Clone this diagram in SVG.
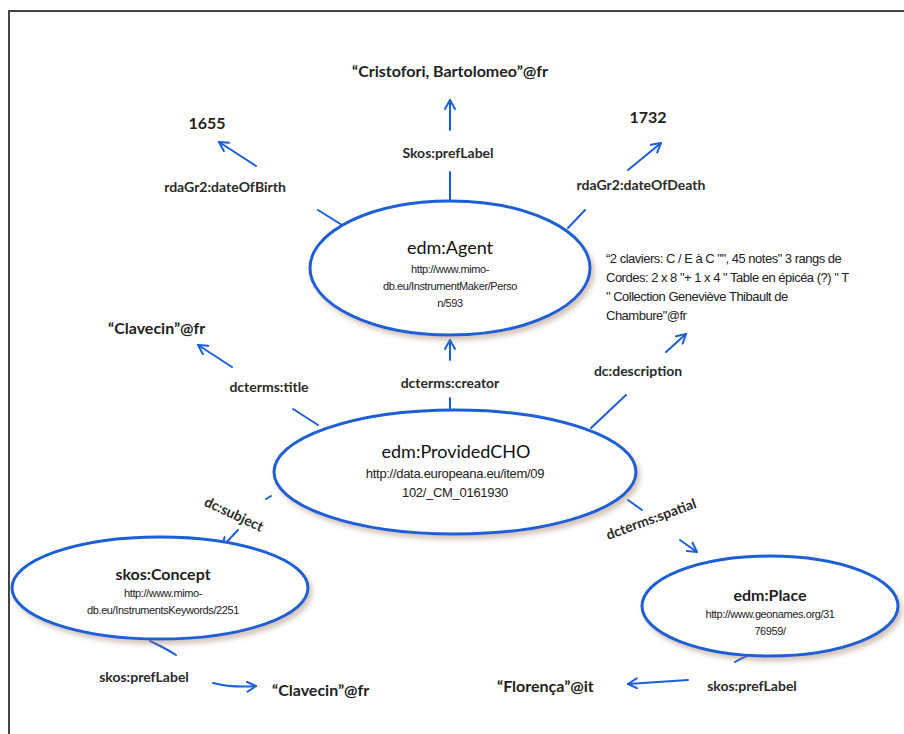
<svg xmlns="http://www.w3.org/2000/svg" width="904" height="734" viewBox="0 0 904 734">
<defs>
<filter id="sh" x="-10%" y="-10%" width="125%" height="130%">
<feDropShadow dx="3" dy="4" stdDeviation="2.5" flood-color="#a08060" flood-opacity="0.45"/>
</filter>
<marker id="ah" viewBox="0 0 12 12" refX="10" refY="6" markerWidth="12" markerHeight="12" markerUnits="userSpaceOnUse" orient="auto">
<path d="M1,1 L10,6 L1,11" fill="none" stroke="#1a5fd6" stroke-width="2" stroke-linecap="round" stroke-linejoin="round"/>
</marker>
</defs>
<style>
.lbl{font-family:Lato,"Noto Sans","Liberation Sans",sans-serif;font-weight:bold;font-size:14px;fill:#2a2a2a;text-anchor:middle}
.lit{font-family:Lato,"Noto Sans","Liberation Sans",sans-serif;font-weight:bold;font-size:16px;fill:#222}
.ttl{font-family:Lato,"Noto Sans","Liberation Sans",sans-serif;font-weight:bold;font-size:16px;fill:#222;text-anchor:middle}
.ttr{font-family:Lato,"Noto Sans","Liberation Sans",sans-serif;font-weight:normal;font-size:18px;fill:#111;text-anchor:middle}
.url{font-family:"Liberation Sans",Arial,sans-serif;font-size:11px;fill:#222;text-anchor:middle;letter-spacing:-0.4px}
.url2{font-family:"Liberation Sans",Arial,sans-serif;font-size:13px;fill:#222;text-anchor:middle;letter-spacing:-0.3px}
.desc{font-family:"Liberation Sans",Arial,sans-serif;font-size:13px;fill:#222;letter-spacing:-0.5px}
.ell{fill:#fff;stroke:#1a5fd6;stroke-width:3;filter:url(#sh)}
.cn{fill:none;stroke:#1a5fd6;stroke-width:2;stroke-linecap:round}
.ar{fill:none;stroke:#1a5fd6;stroke-width:2;stroke-linecap:round;marker-end:url(#ah)}
.frame{fill:none;stroke:#444;stroke-width:2}
</style>
<rect width="904" height="734" fill="#fff"/>
<path class="frame" d="M9,734 L9,11 L904,11"/>

<g id="connectors">
<path class="ar" d="M450,130 L450,100"/>
<path class="cn" d="M450,172 L450,200"/>
<path class="ar" d="M256,166 L219,142"/>
<path class="cn" d="M318,210 L342,225"/>
<path class="ar" d="M628,170 L661,143"/>
<path class="cn" d="M585,210 L568,228"/>
<path class="ar" d="M450,360 L450,340"/>
<path class="cn" d="M450,398 L450,410"/>
<path class="ar" d="M232,367 L198,345"/>
<path class="cn" d="M293,409 L318,425"/>
<path class="ar" d="M666,352 L686,334"/>
<path class="cn" d="M626,395 L591,428"/>
<path class="cn" d="M271,496 L266,499"/>
<path class="ar" d="M238,530 L222,547"/>
<path class="cn" d="M628,500 L642,510"/>
<path class="ar" d="M680,540 L697,552"/>
<path class="cn" d="M150,641 Q165,648 176,655"/>
<path class="ar" d="M213,683 Q232,688 256,686"/>
<path class="cn" d="M735,662 Q748,654 765,651"/>
<path class="ar" d="M688,680 L628,684"/>
</g>

<g id="n-cristofori"><text class="lit" x="450" y="77" text-anchor="middle">“Cristofori, Bartolomeo”@fr</text></g>
<g id="l-skos-agent"><text class="lbl" x="448" y="158">Skos:prefLabel</text></g>
<g id="n-1655"><text class="lit" x="207" y="129" text-anchor="middle" font-size="14">1655</text></g>
<g id="l-birth"><text class="lbl" x="225" y="192">rdaGr2:dateOfBirth</text></g>
<g id="n-1732"><text class="lit" x="648" y="123" text-anchor="middle" font-size="14">1732</text></g>
<g id="l-death"><text class="lbl" x="641" y="190">rdaGr2:dateOfDeath</text></g>

<g id="n-agent">
<ellipse class="ell" cx="450" cy="268" rx="140" ry="67"/>
<text class="ttr" x="450" y="254" font-size="19">edm:Agent</text>
<text class="url" x="450" y="273">http://www.mimo-</text>
<text class="url" x="450" y="290">db.eu/InstrumentMaker/Perso</text>
<text class="url" x="450" y="307">n/593</text>
</g>

<g id="n-clavecin1"><text class="lit" x="108" y="334">“Clavecin”@fr</text></g>
<g id="l-title"><text class="lbl" x="269" y="392">dcterms:title</text></g>
<g id="l-creator"><text class="lbl" x="450" y="388">dcterms:creator</text></g>
<g id="l-description"><text class="lbl" x="638" y="376">dc:description</text></g>

<g id="n-desc">
<text class="desc" x="606" y="263">“2 claviers: C / E à C "", 45 notes" 3 rangs de</text>
<text class="desc" x="606" y="282">Cordes: 2 x 8 "+ 1 x 4 " Table en épicéa (?) " T</text>
<text class="desc" x="606" y="301">" Collection Geneviève Thibault de</text>
<text class="desc" x="606" y="320">Chambure"@fr</text>
</g>

<g id="n-cho">
<ellipse class="ell" cx="455" cy="472" rx="181" ry="62"/>
<text class="ttr" x="456" y="458">edm:ProvidedCHO</text>
<text class="url2" x="455" y="478">http://data.europeana.eu/item/09</text>
<text class="url2" x="455" y="497">102/_CM_0161930</text>
</g>

<g id="l-subject"><text class="lbl" x="234" y="519" transform="rotate(25 234 514)">dc:subject</text></g>
<g id="l-spatial"><text class="lbl" x="651" y="524" transform="rotate(-20 651 519)">dcterms:spatial</text></g>

<g id="n-concept">
<ellipse class="ell" cx="160" cy="588" rx="148" ry="51"/>
<text class="ttl" x="163" y="580" font-size="14">skos:Concept</text>
<text class="url" x="163" y="597">http://www.mimo-</text>
<text class="url" x="163" y="614">db.eu/InstrumentsKeywords/2251</text>
</g>
<g id="l-skos-concept"><text class="lbl" x="144" y="682">skos:prefLabel</text></g>
<g id="n-clavecin2"><text class="lit" x="272" y="696" font-size="17">“Clavecin”@fr</text></g>

<g id="n-place">
<ellipse class="ell" cx="770" cy="606" rx="128" ry="50"/>
<text class="ttl" x="770" y="601" font-size="14">edm:Place</text>
<text class="url" x="770" y="618">http://www.geonames.org/31</text>
<text class="url" x="770" y="635">76959/</text>
</g>
<g id="l-skos-place"><text class="lbl" x="752" y="691">skos:prefLabel</text></g>
<g id="n-florenca"><text class="lit" x="497" y="692" font-size="17">“Florença”@it</text></g>
</svg>
